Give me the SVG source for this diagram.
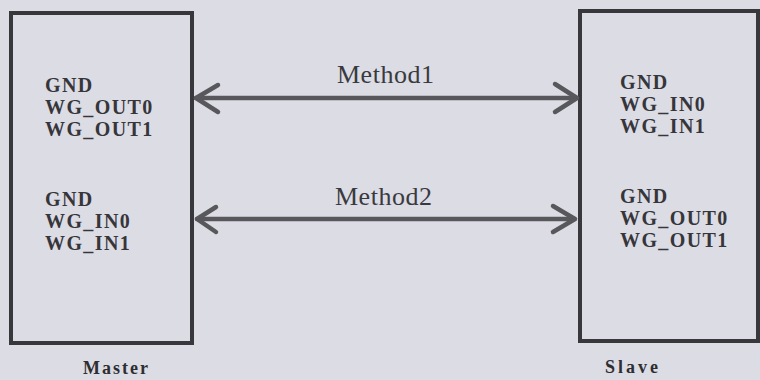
<svg xmlns="http://www.w3.org/2000/svg" width="760" height="380" viewBox="0 0 760 380">
<style>
.box{fill:#dcdce5;stroke:#38383c;stroke-width:4}
.sig{font-family:"Liberation Serif",serif;font-weight:bold;font-size:20px;fill:#36363a;letter-spacing:1.4px}
.cap{font-family:"Liberation Serif",serif;font-weight:bold;font-size:18px;fill:#2e2e32}
.lbl{font-family:"Liberation Serif",serif;font-size:26px;fill:#3a3a3e;letter-spacing:0.5px}
.ln{fill:none;stroke:#58585c;stroke-width:4.5;stroke-linecap:round;stroke-linejoin:round}
</style>
<rect width="760" height="380" fill="#dcdce5"/>
<g id="master">
<rect class="box" x="11" y="13" width="181" height="330"/>
<text class="sig" x="45" y="92">GND</text>
<text class="sig" x="45" y="114">WG_OUT0</text>
<text class="sig" x="45" y="136">WG_OUT1</text>
<text class="sig" x="45" y="206">GND</text>
<text class="sig" x="45" y="228">WG_IN0</text>
<text class="sig" x="45" y="250">WG_IN1</text>
<text class="cap" x="83" y="374" letter-spacing="2">Master</text>
</g>
<g id="slave">
<rect class="box" x="580" y="11" width="178" height="330"/>
<text class="sig" x="620" y="89">GND</text>
<text class="sig" x="620" y="111">WG_IN0</text>
<text class="sig" x="620" y="133">WG_IN1</text>
<text class="sig" x="620" y="203">GND</text>
<text class="sig" x="620" y="225">WG_OUT0</text>
<text class="sig" x="620" y="247">WG_OUT1</text>
<text class="cap" x="605" y="373" letter-spacing="3">Slave</text>
</g>
<g id="connectors">
<g id="method1">
<path class="ln" d="M196 98 H576"/>
<path class="ln" d="M218 85 L196 98 L218 112"/>
<path class="ln" d="M555 84 L577 98 L555 112"/>
<text class="lbl" x="337" y="83">Method1</text>
</g>
<g id="method2">
<path class="ln" d="M197 219 H574"/>
<path class="ln" d="M216 207 L197 219 L216 232"/>
<path class="ln" d="M553 206 L575 219 L553 232"/>
<text class="lbl" x="335" y="205">Method2</text>
</g>
</g>
</svg>
